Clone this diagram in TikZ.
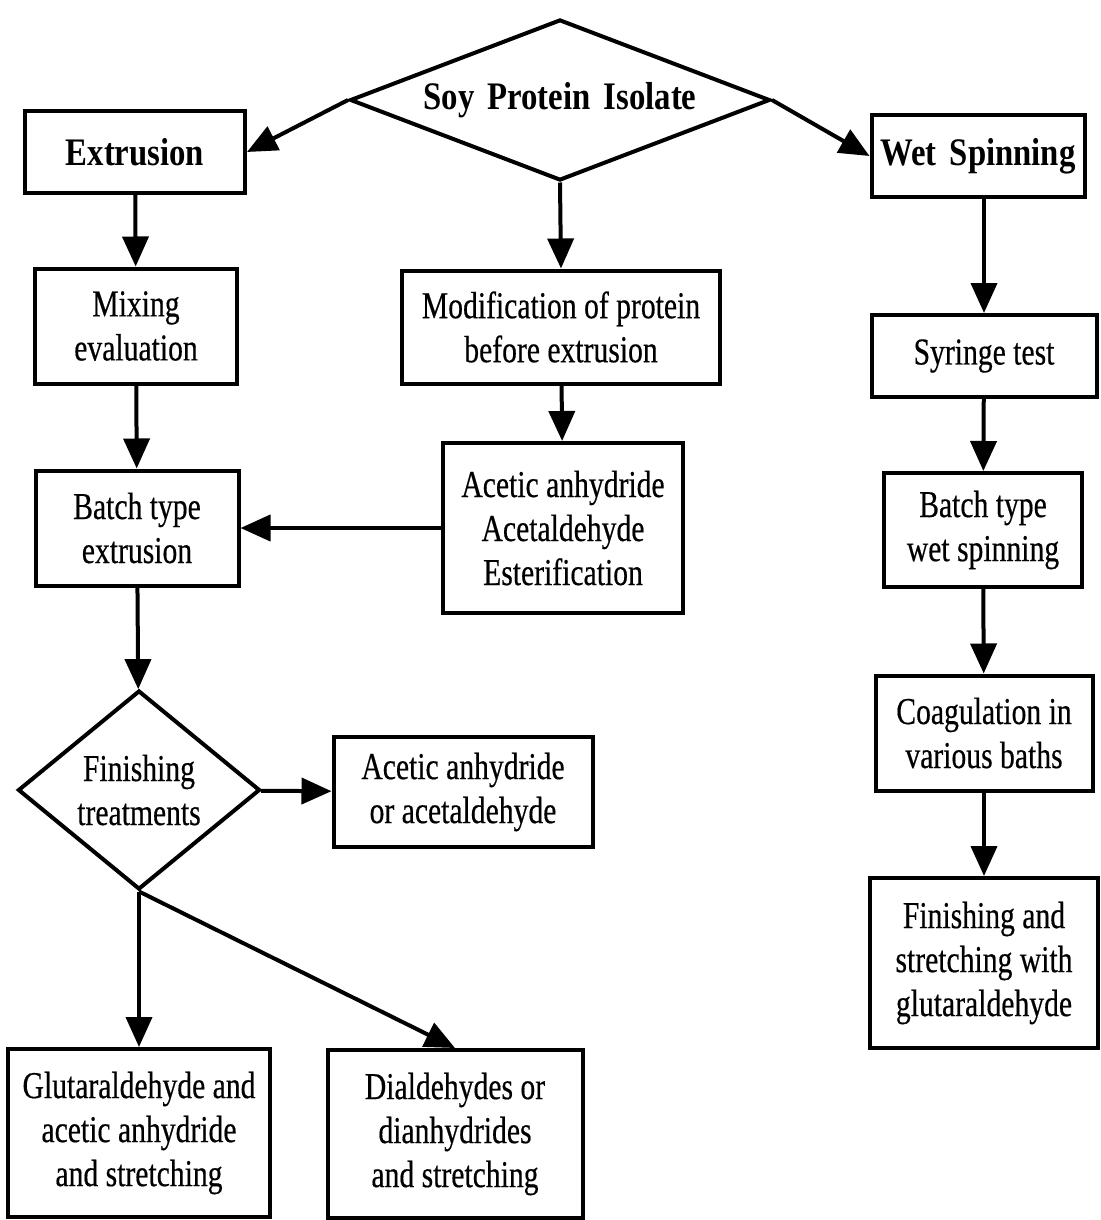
\documentclass[tikz,border=0pt]{standalone}
\usepackage{fontspec}
\setmainfont{Liberation Serif}[FakeStretch=0.78, FakeBold=0.4, BoldFeatures={FakeStretch=0.84, FakeBold=0, WordSpace=1.6}]
\usetikzlibrary{arrows.meta,shapes.geometric}

\tikzset{
  box/.style={draw, line width=4pt, align=center, inner sep=0pt, font=\fontsize{38}{44}\selectfont},
  head/.style={font=\fontsize{39}{46}\selectfont\bfseries},
  choice/.style={draw, diamond, line width=4pt, align=center, inner sep=0pt},
  flow/.style={line width=4pt, -{Triangle[length=30pt,width=26pt]}}
}

\begin{document}
\begin{tikzpicture}[x=1pt, y=-1pt]
  \useasboundingbox (0,0) rectangle (1100,1220);

  % Define the top of the chart
  \node[choice, head, aspect=2.6, minimum width=420pt, minimum height=161pt] (spi) at (560,100) {Soy Protein Isolate};
  \node[box, head, minimum width=220pt, minimum height=81pt] (ext) at (135,152) {Extrusion};
  \node[box, head, minimum width=213pt, minimum height=82pt] (wet) at (978,156) {Wet Spinning};

  % Extrusion column
  \node[box, minimum width=202pt, minimum height=115pt] (mix) at (136,326) {Mixing\\evaluation};
  \node[box, minimum width=203pt, minimum height=115pt] (bat) at (137,528) {Batch type\\extrusion};
  \node[choice, font=\fontsize{38}{44}\selectfont, aspect=1.2, minimum width=242pt, minimum height=199pt] (fin) at (139,790) {Finishing\\treatments};
  \node[box, minimum width=259pt, minimum height=110pt] (acd) at (463,792) {Acetic anhydride\\or acetaldehyde};
  \node[box, minimum width=262pt, minimum height=168pt] (glu) at (139,1133) {Glutaraldehyde and\\acetic anhydride\\and stretching};
  \node[box, minimum width=255pt, minimum height=168pt] (dia) at (455,1134) {Dialdehydes or\\dianhydrides\\and stretching};

  % Modification column
  \node[box, minimum width=318pt, minimum height=113pt] (mod) at (561,327) {Modification of protein\\before extrusion};
  \node[box, minimum width=240pt, minimum height=170pt] (ace) at (563,528) {Acetic anhydride\\Acetaldehyde\\Esterification};

  % Wet spinning column
  \node[box, minimum width=225pt, minimum height=82pt] (syr) at (984,356) {Syringe test};
  \node[box, minimum width=198pt, minimum height=114pt] (bws) at (983,530) {Batch type\\wet spinning};
  \node[box, minimum width=217pt, minimum height=115pt] (coa) at (984,733) {Coagulation in\\various baths};
  \node[box, minimum width=228pt, minimum height=170pt] (fsg) at (984,963) {Finishing and\\stretching with\\glutaraldehyde};

  % Draw the arrows
  \draw[flow] (spi.west) -- (ext.east);
  \draw[flow] (spi.east) -- (wet.west);
  \draw[flow] (spi.south) -- (mod.north);
  \draw[flow] (ext) -- (mix);
  \draw[flow] (mix) -- (bat);
  \draw[flow] (mod) -- (ace);
  \draw[flow] (ace) -- (bat);
  \draw[flow] (bat) -- (fin);
  \draw[flow] (fin) -- (acd);
  \draw[flow] (fin.south) -- (glu);
  \draw[flow] (fin.south) -- (dia.north);
  \draw[flow] (wet.south -| syr.north) -- (syr.north);
  \foreach \a/\b in {syr/bws, bws/coa, coa/fsg}
    \draw[flow] (\a) -- (\b);
\end{tikzpicture}
\end{document}
